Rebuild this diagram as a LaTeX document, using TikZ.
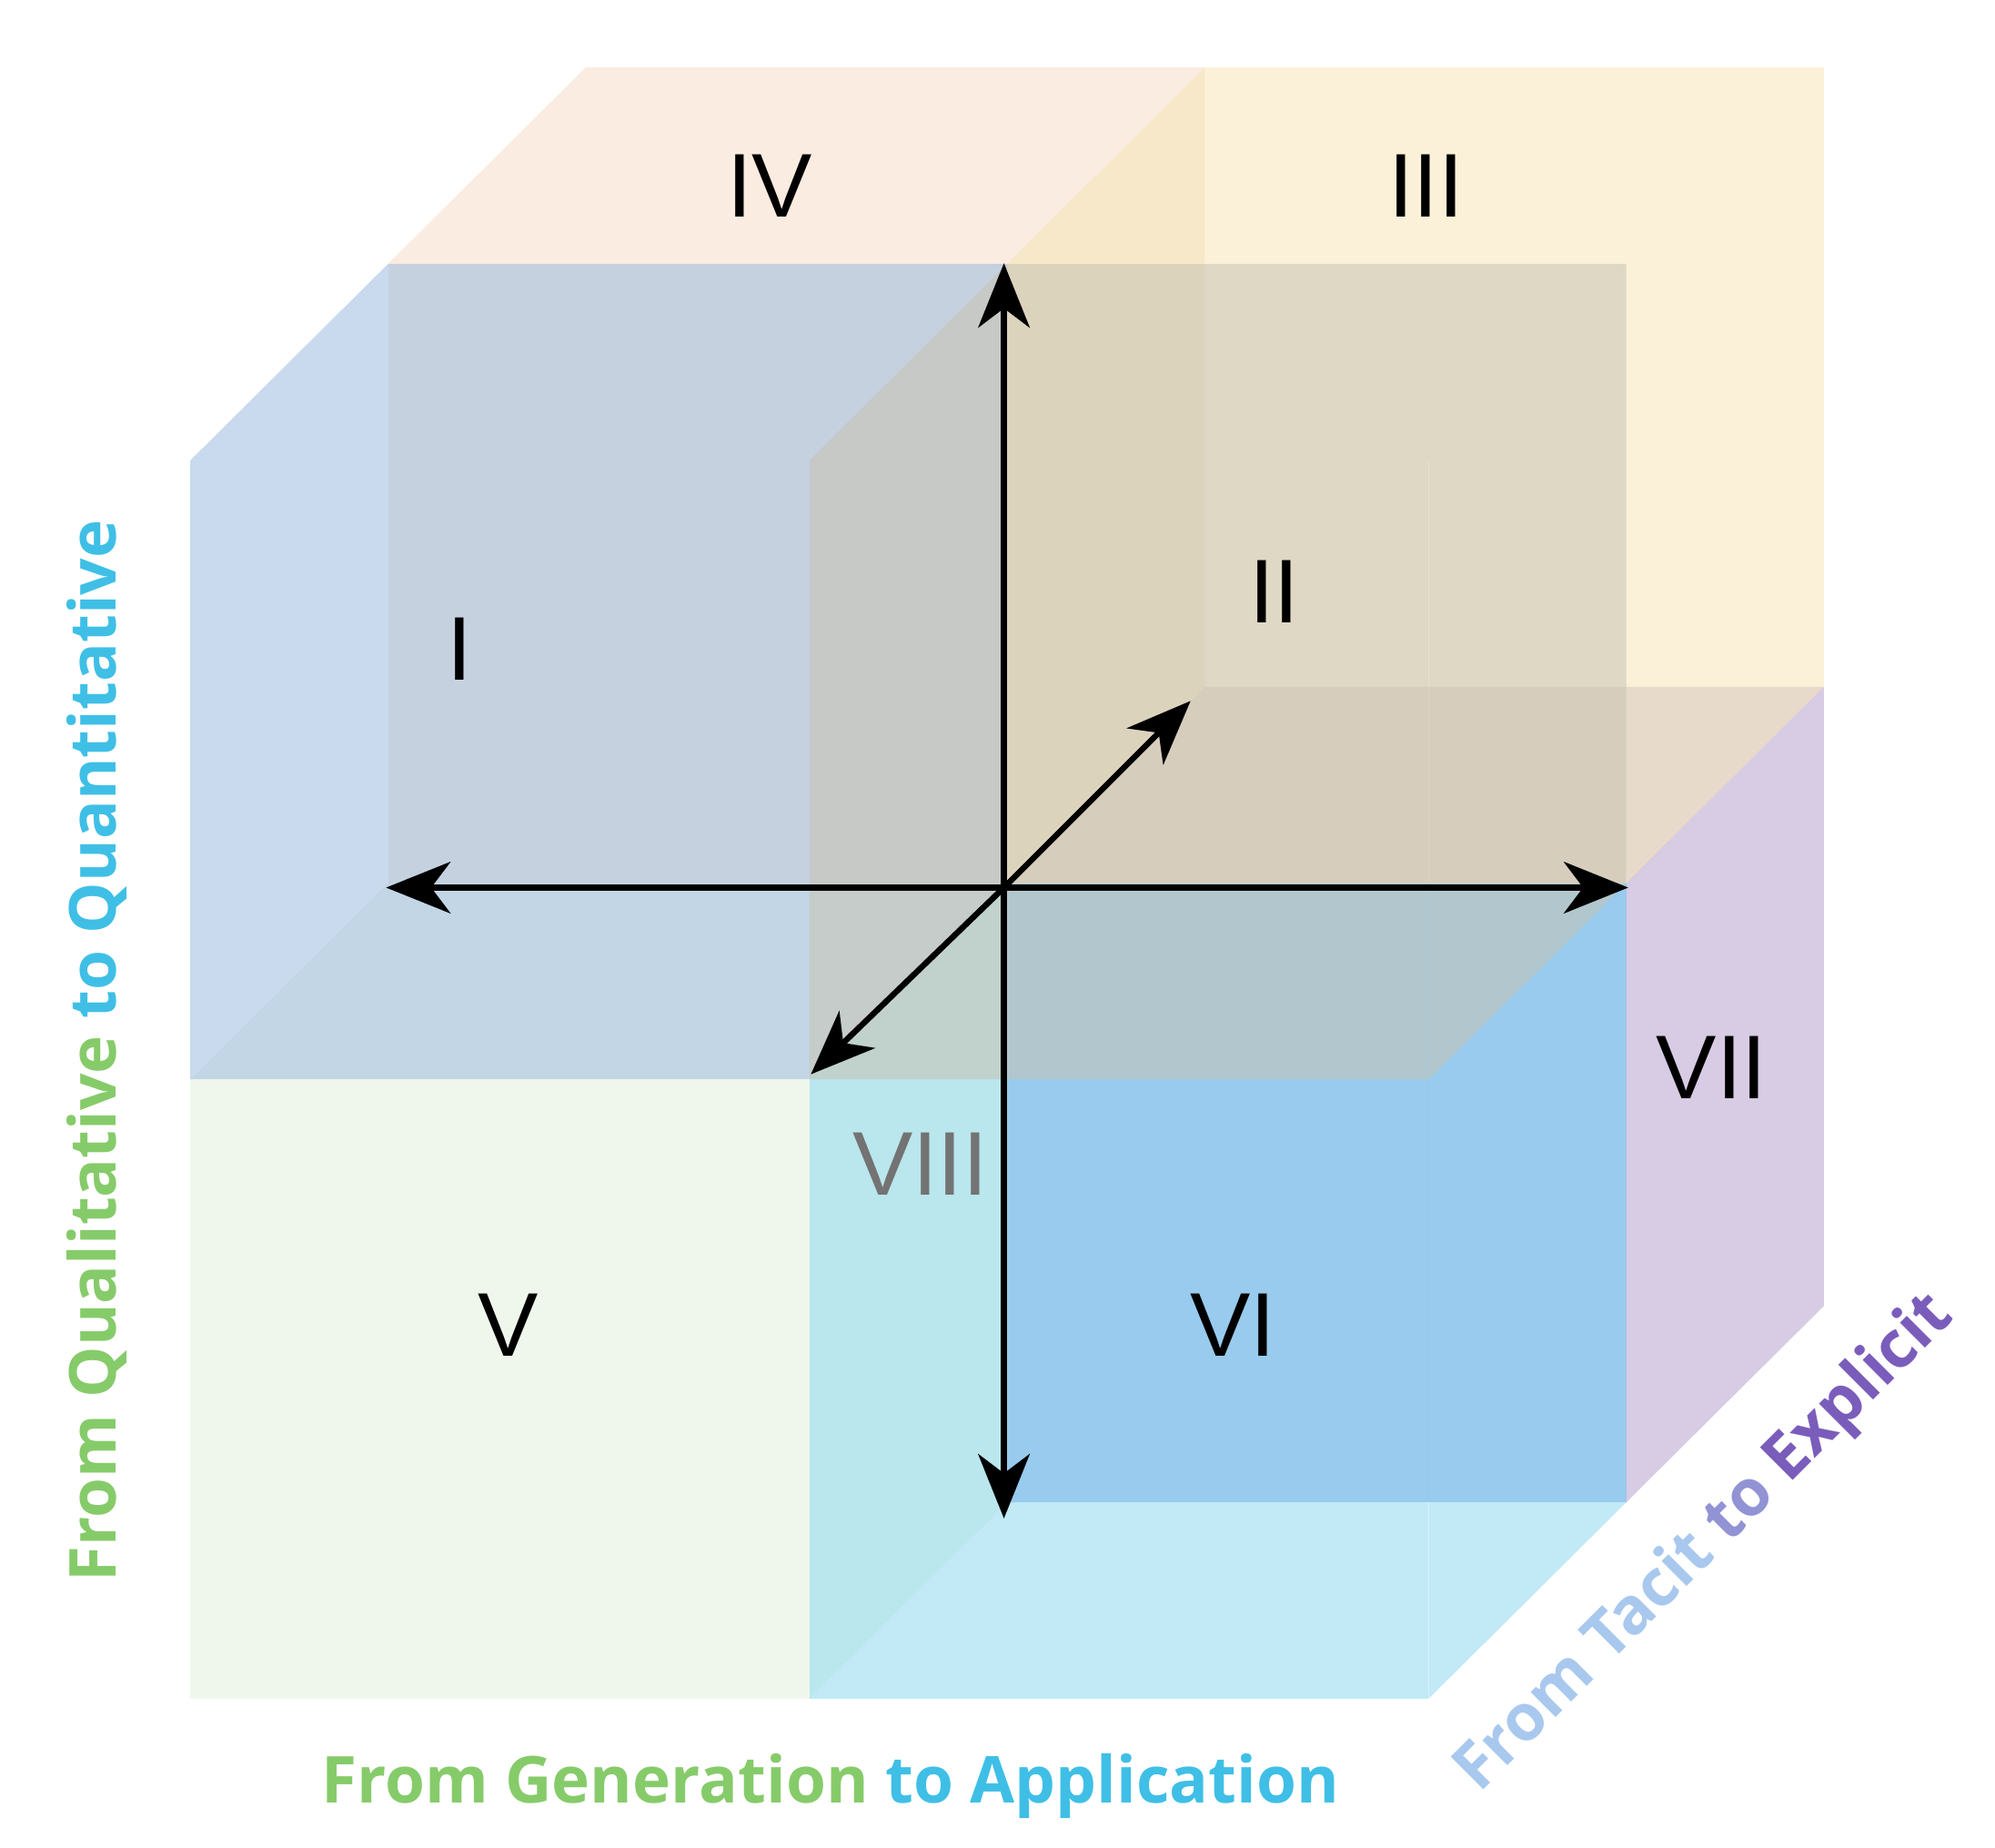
\documentclass[tikz,border=0pt]{standalone}
\usepackage{fontspec}
\setmainfont{Liberation Sans}
\newfontfamily\axisfont{Open Sans}
\usetikzlibrary{arrows.meta,calc}
\definecolor{cI}{HTML}{9DBCE0}
\definecolor{cII}{HTML}{C8C4B4}
\definecolor{cIII}{HTML}{F5E6B8}
\definecolor{cIV}{HTML}{F5DCC8}
\definecolor{cV}{HTML}{E2F0DC}
\definecolor{cVI}{HTML}{5A86DC}
\definecolor{cVII}{HTML}{B8A0CE}
\definecolor{cVIII}{HTML}{8ED8EE}
\definecolor{tgreen}{HTML}{86CB6A}
\definecolor{tcyan}{HTML}{3FBFE6}
\definecolor{tlblue}{HTML}{A9C8EE}
\definecolor{tpurple}{HTML}{7A5DBB}
% kleiner Wuerfel: Index x, y, z (z=1 hinten), Farben vorne, oben, Seite
\newcommand{\subcube}[6]{%
  \begin{scope}[shift={($(#1*4.81,#2*4.81)+#3*(1.535,1.525)$)}]
    \fill[#4,fill opacity=0.55] (0,0) rectangle (4.81,4.81);
    \fill[#5,fill opacity=0.55] (0,4.81) -- ++(1.535,1.525) -- ++(4.81,0) -- (4.81,4.81) -- cycle;
    \fill[#6,fill opacity=0.55] (4.81,0) -- ++(1.535,1.525) -- ++(0,4.81) -- (4.81,4.81) -- cycle;
  \end{scope}}
\tikzset{
  axis/.style={line width=1.3pt,-{Stealth[length=5mm,width=4mm,inset=1.5mm]}},
  numeral/.style={font=\fontsize{20}{24}\selectfont},
  label/.style={font=\axisfont\bfseries\fontsize{14.3}{17}\selectfont}
}
\begin{document}
\begin{tikzpicture}
\useasboundingbox (0,0) rectangle (15.5,14.355);
%%%% Wuerfel
\begin{scope}[shift={(1.48,1.16)}]
  % hinten
  \subcube{1}{0}{1}{cVI}{cVII}{cVII}
  \subcube{0}{1}{1}{cIV}{cIV}{cIV}
  \subcube{1}{1}{1}{cIII}{cIII}{cIII}
  % vorne
  \subcube{0}{0}{0}{cV}{cV}{cV}
  \subcube{1}{0}{0}{cVIII}{cVIII}{cVIII}
  \subcube{0}{1}{0}{cI}{cI}{cI}
  \subcube{1}{1}{0}{cII}{cII}{cII}
\end{scope}
%%%% Achsen
\coordinate (o) at (7.8,7.46);
\coordinate (up) at (7.8,12.31);
\coordinate (down) at (7.8,2.56);
\coordinate (left) at (3.0,7.46);
\coordinate (right) at (12.65,7.46);
\coordinate (back) at (9.25,8.91);
\coordinate (front) at (6.3,6.01);
\foreach \t in {up,down,left,right,back,front} {
  \draw[axis] (o) -- (\t);
}
%%%% Nummern
\node[numeral] (n4) at (5.98,12.91) {IV};
\node[numeral] (n3) at (11.08,12.91) {III};
\node[numeral] (n1) at (3.57,9.31) {I};
\node[numeral] (n2) at (9.90,9.76) {II};
\node[numeral] (n7) at (13.30,6.06) {VII};
\node[numeral,text=black!55] (n8) at (7.15,5.31) {VIII};
\node[numeral] (n5) at (3.95,4.06) {V};
\node[numeral] (n6) at (9.58,4.06) {VI};
%%%% Beschriftung
\node[label,rotate=90] (qual) at (0.75,6.19) {\textcolor{tgreen}{From Qualitative} \textcolor{tcyan}{to Quantitative}};
\node[label] (gen) at (6.45,0.48) {\textcolor{tgreen}{From Generation} \textcolor{tcyan}{to Application}};
\node[label,rotate=45] (tacit) at (13.25,2.36) {\textcolor{tlblue}{From Tacit} \textcolor{tlblue!50!tpurple}{to} \textcolor{tpurple}{Explicit}};
\end{tikzpicture}
\end{document}
